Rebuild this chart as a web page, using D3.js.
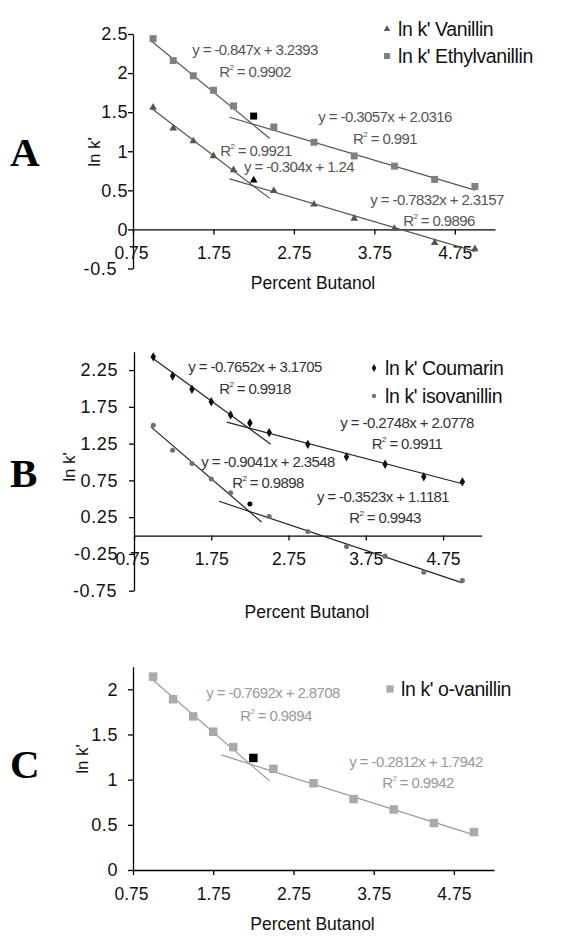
<!DOCTYPE html>
<html>
<head>
<meta charset="utf-8">
<title>ln k' vs percent butanol</title>
<script src="https://cdn.jsdelivr.net/npm/d3@7"></script>
<style>
  body { margin: 0; background: #fff; }
  svg { display: block; }
  text { font-family: "Liberation Sans", Arial, sans-serif; }
  text.letter { font-family: "Liberation Serif", "Times New Roman", serif; font-weight: bold; }
</style>
</head>
<body>
<div id="chart"></div>
<script>
// percent butanol (x values, same for every series)
var butanol = [1, 1.25, 1.5, 1.75, 2, 2.25, 2.5, 3, 3.5, 4, 4.5, 5];

// ln k' values
var lnkVanillin     = [1.56, 1.295, 1.13, 0.94, 0.76, 0.63, 0.495, 0.32, 0.14, 0.01, -0.17, -0.25];
var lnkEthylvanillin = [2.44, 2.16, 1.965, 1.78, 1.58, 1.45, 1.31, 1.115, 0.94, 0.81, 0.64, 0.55];
var lnkCoumarin     = [2.43, 2.17, 1.99, 1.82, 1.64, 1.53, 1.40, 1.24, 1.07, 0.97, 0.80, 0.73];
var lnkIsovanillin  = [1.50, 1.16, 0.98, 0.77, 0.58, 0.43, 0.26, 0.055, -0.15, -0.28, -0.50, -0.61];
var lnkOVanillin    = [2.14, 1.89, 1.70, 1.53, 1.36, 1.24, 1.12, 0.96, 0.785, 0.67, 0.52, 0.42];

// the break point (2.25 %) is drawn black in every series
var breakX = 2.25;

// trend lines: slope, intercept, r2, x from, x to
var fitsA = [
  [-0.847, 3.2393, 0.9902, 0.97, 2.45],
  [-0.3057, 2.0316, 0.991, 1.95, 5],
  [-0.7832, 2.3157, 0.9896, 0.97, 2.45],
  [-0.304, 1.24, 0.9921, 1.95, 5]
];
var fitsB = [
  [-0.7652, 3.1705, 0.9918, 0.97, 2.52],
  [-0.2748, 2.0778, 0.9911, 1.95, 5],
  [-0.9041, 2.3548, 0.9898, 0.97, 2.4],
  [-0.3523, 1.1181, 0.9943, 1.85, 5]
];
var fitsC = [
  [-0.7692, 2.8708, 0.9894, 0.97, 2.45],
  [-0.2812, 1.7942, 0.9942, 1.85, 5]
];

var xTicks = [0.75, 1.75, 2.75, 3.75, 4.75];
var yTicksA = [-0.5, 0, 0.5, 1, 1.5, 2, 2.5];
var yTicksB = [-0.75, -0.25, 0.25, 0.75, 1.25, 1.75, 2.25];
var yTicksC = [0, 0.5, 1, 1.5, 2];

var W = 579, H = 938;
var svg = d3.select("#chart").append("svg").attr("width", W).attr("height", H);
svg.append("rect").attr("width", W).attr("height", H).attr("fill", "#fff");

var panels = [
  {
    letter: "A", letterY: 166, ylabX: 95, ylabY: 152, xlabY: 289,
    xr: [133, 495], yr: [268.5, 34], ydom: [-0.5, 2.5], yTicks: yTicksA, yLabEnd: 128,
    series: [
      {name: "ln k' Vanillin", vals: lnkVanillin, shape: "triangle", size: 7.5, color: "#555", ly: 29},
      {name: "ln k' Ethylvanillin", vals: lnkEthylvanillin, shape: "square", size: 7, color: "#808080", ly: 56}
    ],
    legendX: 387,
    fits: fitsA, lineColor: "#555", textColor: "#555",
    // label positions [eq x, eq y, r2 x, r2 y]
    labels: [[255, 50, 255, 72], [385, 117, 385, 139], [437, 200, 439, 221], [299, 167, 256, 151]]
  },
  {
    letter: "B", letterY: 487, ylabX: 70, ylabY: 467, xlabY: 618,
    xr: [134, 481.7], yr: [590.7, 351.7], ydom: [-0.75, 2.5], yTicks: yTicksB, yLabEnd: 118,
    series: [
      {name: "ln k' Coumarin", vals: lnkCoumarin, shape: "diamond", size: 6.5, color: "#111", ly: 368},
      {name: "ln k' isovanillin", vals: lnkIsovanillin, shape: "circle", size: 5, color: "#707070", ly: 396}
    ],
    legendX: 374,
    fits: fitsB, lineColor: "#222", textColor: "#333",
    labels: [[255, 367, 255, 389], [407, 423, 407, 444], [268, 462, 268, 483], [383, 497, 385, 518]]
  },
  {
    letter: "C", letterY: 778, ylabX: 83, ylabY: 759, xlabY: 930,
    xr: [133, 494], yr: [870, 666.7], ydom: [0, 2.25], yTicks: yTicksC, yLabEnd: 118,
    series: [
      {name: "ln k' o-vanillin", vals: lnkOVanillin, shape: "square", size: 8.5, color: "#aaa", ly: 689}
    ],
    legendX: 390,
    fits: fitsC, lineColor: "#999", textColor: "#999",
    labels: [[273, 693, 276, 716], [416, 762, 418, 783]]
  }
];

var symbolType = {
  triangle: d3.symbolTriangle,
  square: d3.symbolSquare,
  diamond: d3.symbolDiamond,
  circle: d3.symbolCircle
};

function marker(g, shape, size, color, x, y) {
  var area = size * size;
  if (shape === "triangle") area = size * size * 0.45;
  if (shape === "diamond") area = size * size * 0.6;
  if (shape === "circle") area = size * size * 0.8;
  g.append("path")
    .attr("d", d3.symbol().type(symbolType[shape]).size(area)())
    .attr("transform", "translate(" + x + "," + y + ")")
    .attr("fill", color);
}

// plain hyphen for negatives, like the original
var fmt = function(d) { return String(d); };

panels.forEach(function(p) {
  var g = svg.append("g");
  var x = d3.scaleLinear().domain([0.75, 5.25]).range(p.xr);
  var y = d3.scaleLinear().domain(p.ydom).range(p.yr);

  // panel letter
  g.append("text").attr("class", "letter").attr("x", 10).attr("y", p.letterY)
    .style("font-size", "41px").text(p.letter);

  // y axis
  var yAxis = d3.axisLeft(y).tickValues(p.yTicks).tickSize(5).tickFormat(fmt).tickSizeOuter(0);
  var ya = g.append("g").attr("transform", "translate(" + p.xr[0] + ",0)").call(yAxis);
  ya.select(".domain").attr("stroke", "#000").attr("stroke-width", 1.3);
  ya.selectAll(".tick line").attr("stroke", "#000").attr("stroke-width", 1.3);
  ya.selectAll(".tick text").attr("x", p.yLabEnd - p.xr[0])
    .style("font-size", "18px").style("font-family", "Liberation Sans, Arial, sans-serif")
    .attr("letter-spacing", 0.6).attr("fill", "#111");
  // lowest label sits a bit to the left, as in the original
  ya.selectAll(".tick text").filter(function(d) { return d === p.yTicks[0] && d < 0; })
    .attr("x", 117 - p.xr[0]);

  // x axis at y = 0, labels 30px below it
  var xAxis = d3.axisBottom(x).tickValues(xTicks).tickSize(5).tickFormat(fmt).tickSizeOuter(0);
  var xa = g.append("g").attr("transform", "translate(0," + y(0) + ")").call(xAxis);
  xa.select(".domain").attr("stroke", "#000").attr("stroke-width", 1.3);
  xa.selectAll(".tick line").attr("stroke", "#000").attr("stroke-width", 1.3);
  xa.selectAll(".tick text").attr("y", 24).attr("dy", "0.32em")
    .style("font-size", "17.5px").style("font-family", "Liberation Sans, Arial, sans-serif").attr("fill", "#111");
  xa.selectAll(".tick text").filter(function(d) { return d === 0.75; }).attr("dx", -2);

  // axis titles
  g.append("text").attr("x", (p.xr[0] + p.xr[1]) / 2 - 1).attr("y", p.xlabY)
    .attr("text-anchor", "middle").style("font-size", "17.5px").attr("fill", "#111")
    .text("Percent Butanol");
  g.append("text").attr("transform", "translate(" + (p.ylabX + 5) + "," + p.ylabY + ") rotate(-90)")
    .attr("text-anchor", "middle").style("font-size", "17px").attr("fill", "#111").text("ln k'");

  // trend lines
  p.fits.forEach(function(f) {
    g.append("line")
      .attr("x1", x(f[3])).attr("y1", y(f[0] * f[3] + f[1]))
      .attr("x2", x(f[4])).attr("y2", y(f[0] * f[4] + f[1]))
      .attr("stroke", p.lineColor).attr("stroke-width", 1.2);
  });

  // points
  p.series.forEach(function(s) {
    butanol.forEach(function(bx, i) {
      marker(g, s.shape, s.size, bx === breakX ? "#000" : s.color, x(bx), y(s.vals[i]));
    });
    // legend entry
    marker(g, s.shape, s.size * 0.85, s.color, p.legendX, s.ly);
    g.append("text").attr("x", p.legendX + 11).attr("y", s.ly).attr("dy", "0.35em")
      .style("font-size", "19.5px").attr("letter-spacing", -0.4).attr("fill", "#111").text(s.name);
  });

  // equation + R2 labels
  p.fits.forEach(function(f, i) {
    var L = p.labels[i];
    g.append("text").attr("x", L[0]).attr("y", L[1]).attr("dy", "0.35em")
      .attr("text-anchor", "middle").style("font-size", "15px").attr("letter-spacing", -0.6)
      .attr("fill", p.textColor)
      .text("y = " + f[0] + "x + " + f[1]);
    var t = g.append("text").attr("x", L[2]).attr("y", L[3]).attr("dy", "0.35em")
      .attr("text-anchor", "middle").style("font-size", "15px").attr("letter-spacing", -0.6)
      .attr("fill", p.textColor);
    t.append("tspan").text("R");
    t.append("tspan").attr("dy", -7).style("font-size", "8px").text("2");
    t.append("tspan").attr("dy", 7).text(" = " + f[2]);
  });
});
</script>
</body>
</html>
